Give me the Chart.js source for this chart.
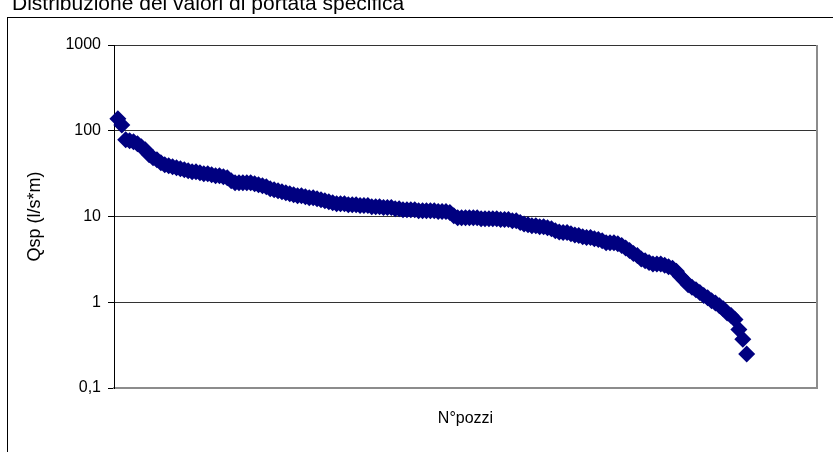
<!DOCTYPE html>
<html>
<head>
<meta charset="utf-8">
<script src="https://cdn.jsdelivr.net/npm/chart.js@4/dist/chart.umd.min.js"></script>
<style>
  html, body { margin: 0; padding: 0; background: #fff; overflow: hidden; }
  #wrap { width: 833px; height: 452px; position: relative; }
</style>
</head>
<body>
<div id="wrap"><canvas id="c" width="833" height="452"></canvas></div>
<script>
// Text
const chartTitle = 'Distribuzione dei valori di portata specifica';
const yAxisTitle = 'Qsp (l/s*m)';
const xAxisTitle = 'N°pozzi';

// Logarithmic axis ticks (Italian decimal comma)
const yTickValues = [0.1, 1, 10, 100, 1000];
const yTickLabels = ['0,1', '1', '10', '100', '1000'];

// Specific capacity of each well (l/s*m), sorted from highest to lowest
const qsp = [
  138, 117, 78.5, 76.5, 74.4, 70.5, 65, 60, 52.5, 48.4,
  45.9, 42.3, 40.1, 39.1, 38, 37, 36, 35.1, 34.2, 33.3,
  33.3, 32.4, 31.5, 31.5, 30.7, 29.9, 29.9, 29.1, 28.3, 26.1,
  24.7, 24.7, 24.7, 24.7, 24.7, 24.1, 23.5, 22.8, 22.2, 21.1,
  20.5, 20, 19.5, 18.9, 18.4, 17.9, 17.5, 17.5, 17, 16.6,
  16.6, 16.1, 15.7, 15.3, 14.9, 14.5, 14.1, 14.1, 14.1, 13.7,
  13.7, 13.7, 13.4, 13.4, 13.4, 13, 13, 13, 12.7, 12.7,
  12.7, 12.3, 12.3, 12, 12, 12, 12, 11.7, 11.7, 11.7,
  11.7, 11.7, 11.4, 11.4, 11.4, 11.1, 10.2, 9.7, 9.7, 9.7,
  9.7, 9.7, 9.7, 9.4, 9.4, 9.4, 9.4, 9.4, 9.2, 9.2,
  9.2, 8.9, 8.9, 8.5, 8.2, 8, 7.8, 7.8, 7.6, 7.6,
  7.4, 7.2, 6.8, 6.6, 6.5, 6.5, 6.3, 6.1, 6, 5.8,
  5.7, 5.7, 5.5, 5.4, 5.2, 4.95, 4.95, 4.95, 4.8, 4.6,
  4.3, 4, 3.7, 3.5, 3.2, 3.05, 2.9, 2.8, 2.8, 2.8,
  2.7, 2.6, 2.5, 2.3, 2, 1.8, 1.6, 1.5, 1.4, 1.3,
  1.2, 1.13, 1.04, 0.98, 0.91, 0.84, 0.75, 0.7, 0.63, 0.48,
  0.37, 0.25
];

// Well rank (1..n) on the horizontal axis
const wellRank = qsp.map((_, i) => i + 1);
const xAxisMax = 180;

const FONT = "'Liberation Sans', Arial, sans-serif";
Chart.defaults.font.family = FONT;
Chart.defaults.color = '#000';

// Background, outer chart frame and the heading
const framePlugin = {
  id: 'frame',
  beforeDraw(chart) {
    const ctx = chart.ctx;
    ctx.save();
    ctx.fillStyle = '#fff';
    ctx.fillRect(0, 0, chart.width, chart.height);
    ctx.strokeStyle = '#000';
    ctx.lineWidth = 1;
    ctx.strokeRect(7.5, 17.5, chart.width + 20, chart.height + 20);
    ctx.fillStyle = '#000';
    ctx.font = '21px ' + FONT;
    ctx.textAlign = 'left';
    ctx.textBaseline = 'alphabetic';
    ctx.fillText(chartTitle, 12, 10);
    ctx.restore();
  }
};

// Grey right edge of the plot area
const plotEdgePlugin = {
  id: 'plotEdge',
  beforeDatasetsDraw(chart) {
    const {ctx, chartArea: a} = chart;
    ctx.save();
    ctx.strokeStyle = '#8c8c8c';
    ctx.lineWidth = 2;
    ctx.beginPath();
    ctx.moveTo(a.right, a.top);
    ctx.lineTo(a.right, a.bottom + 1);
    ctx.stroke();
    ctx.restore();
  }
};

new Chart(document.getElementById('c'), {
  type: 'scatter',
  data: {
    datasets: [{
      data: qsp.map((v, i) => ({ x: wellRank[i], y: v })),
      pointStyle: 'rectRot',
      pointRadius: 8.5,
      pointHoverRadius: 8.5,
      pointBorderWidth: 0,
      backgroundColor: '#000080',
      borderColor: '#000080',
      showLine: false,
      clip: false
    }]
  },
  options: {
    responsive: false,
    animation: false,
    devicePixelRatio: 1,
    layout: { padding: { top: 45, right: 16, left: 0, bottom: 0 } },
    plugins: {
      legend: { display: false },
      tooltip: { enabled: false },
      title: { display: false }
    },
    scales: {
      x: {
        type: 'linear',
        position: 'bottom',
        min: 0,
        max: xAxisMax,
        afterFit(s) { s.height = 64; },
        ticks: { display: false },
        grid: { display: false, drawTicks: false },
        border: { display: true, color: '#8c8c8c', width: 2 },
        title: {
          display: true, text: xAxisTitle, color: '#000',
          font: { size: 16, family: FONT },
          padding: { top: 0, bottom: 24 }
        }
      },
      y: {
        type: 'logarithmic',
        position: 'left',
        min: 0.1,
        max: 1000,
        afterBuildTicks(s) { s.ticks = yTickValues.map(v => ({ value: v })); },
        afterFit(s) { s.width = 114; },
        ticks: {
          autoSkip: false,
          padding: 7,
          color: '#000',
          font: { size: 16, family: FONT },
          callback(v) {
            const i = yTickValues.indexOf(v);
            return i >= 0 ? yTickLabels[i] : '';
          }
        },
        grid: { color: '#333', lineWidth: 1, drawTicks: true, tickLength: 6, tickColor: '#000' },
        border: { display: true, color: '#000', width: 1 },
        title: {
          display: true, text: yAxisTitle, color: '#000',
          font: { size: 18, family: FONT },
          padding: { top: 24, bottom: 0 }
        }
      }
    }
  },
  plugins: [framePlugin, plotEdgePlugin]
});
</script>
</body>
</html>
